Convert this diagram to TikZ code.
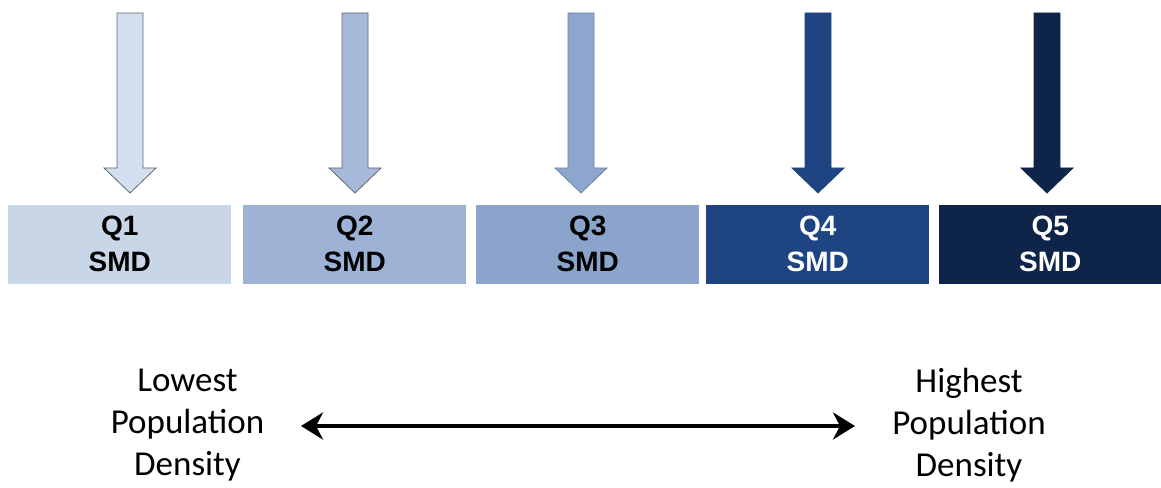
\documentclass[tikz,border=0pt]{standalone}
\usepackage{fontspec}
\setmainfont{Liberation Sans}
\newfontfamily\calib{Carlito}
\usetikzlibrary{arrows.meta}
\definecolor{cA}{HTML}{C9D6E8}
\definecolor{cB}{HTML}{9DB2D4}
\definecolor{cC}{HTML}{8AA4CB}
\definecolor{cD}{HTML}{1E4581}
\definecolor{cE}{HTML}{0E2448}
\definecolor{aA}{HTML}{D3DFEF}
\definecolor{aB}{HTML}{A6B9D9}
\definecolor{aC}{HTML}{8CA6CD}
\tikzset{
  qbox/.style={minimum width=223pt, minimum height=79pt, inner sep=0pt, font=\fontsize{28}{36}\selectfont\bfseries, align=center},
  lbl/.style={font=\calib\fontsize{35}{42}\selectfont, align=center, inner sep=0pt},
}
\newcommand\bigdownarrow[3]{% x, fill, draw
  \filldraw[fill=#2, draw=#3, line width=0.8pt]
    (#1-13,474) -- (#1+13,474) -- (#1+13,319) -- (#1+26,319) -- (#1,294) -- (#1-26,319) -- (#1-13,319) -- cycle;}
\begin{document}
\begin{tikzpicture}[x=1pt,y=1pt]
\useasboundingbox (0,0) rectangle (1161,487);
\node[qbox, fill=cA, text=black, anchor=south west] (q1) at (8,203) {Q1\\SMD};
\node[qbox, fill=cB, text=black, anchor=south west] (q2) at (243,203) {Q2\\SMD};
\node[qbox, fill=cC, text=black, anchor=south west] (q3) at (476,203) {Q3\\SMD};
\node[qbox, fill=cD, text=white, anchor=south west] (q4) at (706,203) {Q4\\SMD};
\node[qbox, fill=cE, text=white, anchor=south west, minimum width=222pt] (q5) at (939,203) {Q5\\SMD};
\bigdownarrow{130}{aA}{gray!80!black}
\bigdownarrow{355}{aB}{gray!80!black}
\bigdownarrow{581}{aC}{cC!80!black}
\bigdownarrow{818}{cD}{cD}
\bigdownarrow{1047}{cE}{cE}
\node[lbl] (lo) at (187.5,62) {Lowest\\Population\\Density};
\node[lbl] (hi) at (969,62) {Highest\\Population\\Density};
\coordinate (la) at (301,61);
\coordinate (ra) at (855,61);
\draw[line width=4.5pt, {Stealth[length=22pt,width=27pt,inset=7pt]}-{Stealth[length=22pt,width=27pt,inset=7pt]}] (la) -- (ra);
\end{tikzpicture}
\end{document}
